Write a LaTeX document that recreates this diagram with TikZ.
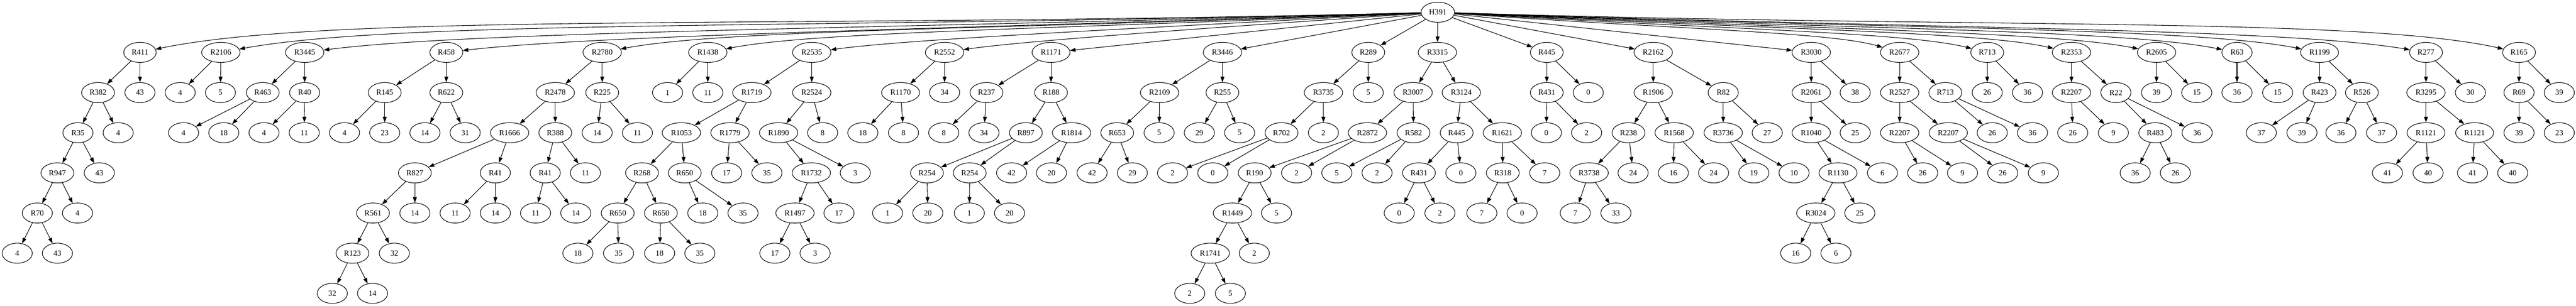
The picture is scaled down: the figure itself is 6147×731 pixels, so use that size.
\documentclass[tikz,border=0pt]{standalone}
\usepackage{fontspec}
\setmainfont{Liberation Serif}
\usetikzlibrary{shapes.geometric,arrows.meta}
\tikzset{
 nd/.style={ellipse, draw, line width=1pt, minimum width=54pt, minimum height=36pt, inner xsep=5.65pt, inner ysep=2pt, font=\fontsize{14}{16}\selectfont},
 arr/.style={line width=1pt, -{Triangle[length=10pt,width=7pt]}}
}
\newcommand\mknode[4]{\node[nd] (#1) at (#3,#4) {#2};}
\newcommand\mkedge[2]{\draw[arr] (#1) -- (#2);}
\begin{document}
\begin{tikzpicture}[x=0.75pt,y=-0.75pt]
\useasboundingbox (0,0) rectangle (6147,731);
% root
\mknode{r}{H391}{3431}{29.3}
% R411
\mknode{a}{R411}{334}{125.3}
\mknode{a1}{R382}{234}{221.3}
\mknode{a2}{43}{334}{221.3}
\mknode{a11}{R35}{186}{317.3}
\mknode{a12}{4}{282}{317.3}
\mknode{a111}{R947}{137}{413.3}
\mknode{a112}{43}{237}{413.3}
\mknode{a1111}{R70}{89}{509.3}
\mknode{a1112}{4}{185}{509.3}
\mknode{a11111}{4}{41}{605.3}
\mknode{a11112}{43}{137}{605.3}
% R2106
\mknode{b}{R2106}{527}{125.3}
\mknode{b1}{4}{430}{221.3}
\mknode{b2}{5}{526}{221.3}
% R3445
\mknode{c}{R3445}{727}{125.3}
\mknode{c1}{R463}{627}{221.3}
\mknode{c2}{R40}{727}{221.3}
\mknode{c11}{4}{438}{317.3}
\mknode{c12}{18}{534}{317.3}
\mknode{c21}{4}{630}{317.3}
\mknode{c22}{11}{726}{317.3}
% R458
\mknode{d}{R458}{1065}{125.3}
\mknode{d1}{R145}{918}{221.3}
\mknode{d2}{R622}{1065}{221.3}
\mknode{d11}{4}{822}{317.3}
\mknode{d12}{23}{918}{317.3}
\mknode{d21}{14}{1014}{317.3}
\mknode{d22}{31}{1110}{317.3}
% R2780
\mknode{e}{R2780}{1437}{125.3}
\mknode{e1}{R2478}{1325}{221.3}
\mknode{e2}{R225}{1437}{221.3}
\mknode{e11}{R1666}{1216}{317.3}
\mknode{e12}{R388}{1325}{317.3}
\mknode{e21}{14}{1425}{317.3}
\mknode{e22}{11}{1521}{317.3}
\mknode{e111}{R827}{990}{413.3}
\mknode{e112}{R41}{1182}{413.3}
\mknode{e121}{R41}{1301}{413.3}
\mknode{e122}{11}{1397}{413.3}
\mknode{e1111}{R561}{890}{509.3}
\mknode{e1112}{14}{990}{509.3}
\mknode{e11111}{R123}{841}{605.3}
\mknode{e11112}{32}{941}{605.3}
\mknode{e111111}{32}{793}{701.3}
\mknode{e111112}{14}{889}{701.3}
\mknode{e1121}{11}{1086}{509.3}
\mknode{e1122}{14}{1182}{509.3}
\mknode{e1211}{11}{1278}{509.3}
\mknode{e1212}{14}{1374}{509.3}
% R1438
\mknode{g}{R1438}{1689}{125.3}
\mknode{g1}{1}{1593}{221.3}
\mknode{g2}{11}{1689}{221.3}
% R2535
\mknode{h}{R2535}{1937}{125.3}
\mknode{h1}{R1719}{1794}{221.3}
\mknode{h2}{R2524}{1937}{221.3}
\mknode{h11}{R1053}{1626}{317.3}
\mknode{h12}{R1779}{1742}{317.3}
\mknode{h21}{R1890}{1858}{317.3}
\mknode{h22}{8}{1963}{317.3}
\mknode{h111}{R268}{1532}{413.3}
\mknode{h112}{R650}{1634}{413.3}
\mknode{h121}{17}{1734}{413.3}
\mknode{h122}{35}{1830}{413.3}
\mknode{h211}{R1732}{1936}{413.3}
\mknode{h212}{3}{2041}{413.3}
\mknode{h1111}{R650}{1474}{509.3}
\mknode{h1112}{R650}{1577}{509.3}
\mknode{h1121}{18}{1677}{509.3}
\mknode{h1122}{35}{1773}{509.3}
\mknode{h2111}{R1497}{1897}{509.3}
\mknode{h2112}{17}{2002}{509.3}
\mknode{h11111}{18}{1379}{605.3}
\mknode{h11112}{35}{1476}{605.3}
\mknode{h11121}{18}{1574}{605.3}
\mknode{h11122}{35}{1670}{605.3}
\mknode{h21111}{17}{1849}{605.3}
\mknode{h21112}{3}{1945}{605.3}
% R2552
\mknode{i}{R2552}{2254}{125.3}
\mknode{i1}{R1170}{2149}{221.3}
\mknode{i2}{34}{2254}{221.3}
\mknode{i11}{18}{2059}{317.3}
\mknode{i12}{8}{2156}{317.3}
% R1171
\mknode{j}{R1171}{2508}{125.3}
\mknode{j1}{R237}{2354}{221.3}
\mknode{j2}{R188}{2508}{221.3}
\mknode{j11}{8}{2252}{317.3}
\mknode{j12}{34}{2348}{317.3}
\mknode{j21}{R897}{2448}{317.3}
\mknode{j22}{R1814}{2557}{317.3}
\mknode{j211}{R254}{2212}{413.3}
\mknode{j212}{R254}{2314}{413.3}
\mknode{j221}{42}{2414}{413.3}
\mknode{j222}{20}{2509}{413.3}
\mknode{j2111}{1}{2118}{509.3}
\mknode{j2112}{20}{2214}{509.3}
\mknode{j2121}{1}{2313}{509.3}
\mknode{j2122}{20}{2409}{509.3}
% R3446
\mknode{k}{R3446}{2917}{125.3}
\mknode{k1}{R2109}{2767}{221.3}
\mknode{k2}{R255}{2917}{221.3}
\mknode{k11}{R653}{2666}{317.3}
\mknode{k12}{5}{2766}{317.3}
\mknode{k111}{42}{2606}{413.3}
\mknode{k112}{29}{2702}{413.3}
\mknode{k21}{29}{2862}{317.3}
\mknode{k22}{5}{2958}{317.3}
% R289
\mknode{l}{R289}{3265}{125.3}
\mknode{l1}{R3735}{3158}{221.3}
\mknode{l2}{5}{3265}{221.3}
\mknode{l11}{R702}{3058}{317.3}
\mknode{l12}{2}{3158}{317.3}
\mknode{l111}{2}{2798}{413.3}
\mknode{l112}{0}{2894}{413.3}
% R3315
\mknode{m}{R3315}{3430}{125.3}
\mknode{m1}{R3007}{3372}{221.3}
\mknode{m2}{R3124}{3487}{221.3}
\mknode{m11}{R2872}{3263}{317.3}
\mknode{m12}{R582}{3373}{317.3}
\mknode{m111}{R190}{2994}{413.3}
\mknode{m112}{2}{3094}{413.3}
\mknode{m1111}{R1449}{2941}{509.3}
\mknode{m1112}{5}{3046}{509.3}
\mknode{m11111}{R1741}{2888}{605.3}
\mknode{m11112}{2}{2993}{605.3}
\mknode{m111111}{2}{2839}{701.3}
\mknode{m111112}{5}{2936}{701.3}
\mknode{m121}{5}{3190}{413.3}
\mknode{m122}{2}{3286}{413.3}
\mknode{m21}{R445}{3476}{317.3}
\mknode{m22}{R1621}{3585}{317.3}
\mknode{m211}{R431}{3386}{413.3}
\mknode{m212}{0}{3486}{413.3}
\mknode{m2111}{0}{3339}{509.3}
\mknode{m2112}{2}{3436}{509.3}
\mknode{m221}{R318}{3586}{413.3}
\mknode{m222}{7}{3686}{413.3}
\mknode{m2211}{7}{3536}{509.3}
\mknode{m2212}{0}{3632}{509.3}
% R445
\mknode{n}{R445}{3691}{125.3}
\mknode{n1}{R431}{3691}{221.3}
\mknode{n2}{0}{3790}{221.3}
\mknode{n11}{0}{3690}{317.3}
\mknode{n12}{2}{3786}{317.3}
% R2162
\mknode{o}{R2162}{3945}{125.3}
\mknode{o1}{R1906}{3945}{221.3}
\mknode{o2}{R82}{4112}{221.3}
\mknode{o11}{R238}{3886}{317.3}
\mknode{o12}{R1568}{3995}{317.3}
\mknode{o111}{R3738}{3792}{413.3}
\mknode{o112}{24}{3897}{413.3}
\mknode{o1111}{7}{3759}{509.3}
\mknode{o1112}{33}{3856}{509.3}
\mknode{o121}{16}{3993}{413.3}
\mknode{o122}{24}{4089}{413.3}
\mknode{o21}{R3736}{4112}{317.3}
\mknode{o22}{27}{4217}{317.3}
\mknode{o211}{19}{4185}{413.3}
\mknode{o212}{10}{4281}{413.3}
% R3030
\mknode{p}{R3030}{4322}{125.3}
\mknode{p1}{R2061}{4322}{221.3}
\mknode{p2}{38}{4427}{221.3}
\mknode{p11}{R1040}{4322}{317.3}
\mknode{p12}{25}{4427}{317.3}
\mknode{p111}{R1130}{4386}{413.3}
\mknode{p112}{6}{4492}{413.3}
\mknode{p1111}{R3024}{4333}{509.3}
\mknode{p1112}{25}{4438}{509.3}
\mknode{p11111}{16}{4285}{605.3}
\mknode{p11112}{6}{4381}{605.3}
% R2677
\mknode{q}{R2677}{4533}{125.3}
\mknode{q1}{R2527}{4533}{221.3}
\mknode{q2}{R713}{4642}{221.3}
\mknode{q11}{R2207}{4533}{317.3}
\mknode{q12}{R2207}{4649}{317.3}
\mknode{q21}{26}{4754}{317.3}
\mknode{q22}{36}{4850}{317.3}
\mknode{q111}{26}{4588}{413.3}
\mknode{q112}{9}{4683}{413.3}
\mknode{q121}{26}{4779}{413.3}
\mknode{q122}{9}{4876}{413.3}
% R713
\mknode{s}{R713}{4742}{125.3}
\mknode{s1}{26}{4742}{221.3}
\mknode{s2}{36}{4838}{221.3}
% R2353
\mknode{t}{R2353}{4943}{125.3}
\mknode{t1}{R2207}{4943}{221.3}
\mknode{t2}{R22}{5049}{221.3}
\mknode{t11}{26}{4946}{317.3}
\mknode{t12}{9}{5043}{317.3}
\mknode{t21}{R483}{5143}{317.3}
\mknode{t22}{36}{5243}{317.3}
\mknode{t211}{36}{5095}{413.3}
\mknode{t212}{26}{5191}{413.3}
% R2605
\mknode{u}{R2605}{5146}{125.3}
\mknode{u1}{39}{5146}{221.3}
\mknode{u2}{15}{5242}{221.3}
% R63
\mknode{v}{R63}{5338}{125.3}
\mknode{v1}{36}{5338}{221.3}
\mknode{v2}{15}{5435}{221.3}
% R1199
\mknode{w}{R1199}{5535}{125.3}
\mknode{w1}{R423}{5535}{221.3}
\mknode{w2}{R526}{5636}{221.3}
\mknode{w11}{37}{5396}{317.3}
\mknode{w12}{39}{5493}{317.3}
\mknode{w21}{36}{5586}{317.3}
\mknode{w22}{37}{5683}{317.3}
% R277
\mknode{xx}{R277}{5789}{125.3}
\mknode{xx1}{R3295}{5789}{221.3}
\mknode{xx2}{30}{5895}{221.3}
\mknode{xx11}{R1121}{5789}{317.3}
\mknode{xx12}{R1121}{5905}{317.3}
\mknode{xx111}{41}{5697}{413.3}
\mknode{xx112}{40}{5794}{413.3}
\mknode{xx121}{41}{5900}{413.3}
\mknode{xx122}{40}{5996}{413.3}
% R165
\mknode{yy}{R165}{6011}{125.3}
\mknode{yy1}{R69}{6011}{221.3}
\mknode{yy2}{39}{6107}{221.3}
\mknode{yy11}{39}{6011}{317.3}
\mknode{yy12}{23}{6107}{317.3}

% root edges
\draw[arr] (r) .. controls (1882.5,69.3) and (798.6,29.3) .. (a);
\draw[arr] (r) .. controls (1979,69.3) and (962.6,46.3) .. (b);
\draw[arr] (r) .. controls (2079,69.3) and (1132.6,74.3) .. (c);
\draw[arr] (r) .. controls (2248,69.3) and (1419.9,84.3) .. (d);
\draw[arr] (r) .. controls (2434,69.3) and (1736.1,69.3) .. (e);
\draw[arr] (r) .. controls (2560,69.3) and (1950.3,74.3) .. (g);
\draw[arr] (r) .. controls (2684,69.3) and (2161.1,94.3) .. (h);
\draw[arr] (r) .. controls (2842.5,69.3) and (2430.6,99.3) .. (i);
\mkedge{r}{j}
\mkedge{r}{k}
\mkedge{r}{l}
\mkedge{r}{m}
\mkedge{r}{n}
\mkedge{r}{o}
\mkedge{r}{p}
\draw[arr] (r) .. controls (3982,69.3) and (4367.7,76.3) .. (q);
\draw[arr] (r) .. controls (4086.5,69.3) and (4545.4,76.3) .. (s);
\draw[arr] (r) .. controls (4187,69.3) and (4716.2,74.3) .. (t);
\draw[arr] (r) .. controls (4288.5,69.3) and (4888.8,74.3) .. (u);
\draw[arr] (r) .. controls (4384.5,69.3) and (5052,69.3) .. (v);
\draw[arr] (r) .. controls (4483,69.3) and (5219.4,64.3) .. (w);
\draw[arr] (r) .. controls (4610,69.3) and (5435.3,66.3) .. (xx);
\draw[arr] (r) .. controls (4721,69.3) and (5624,39.3) .. (yy);

% subtree edges
\mkedge{a}{a1}\mkedge{a}{a2}\mkedge{a1}{a11}\mkedge{a1}{a12}
\mkedge{a11}{a111}\mkedge{a11}{a112}\mkedge{a111}{a1111}\mkedge{a111}{a1112}
\mkedge{a1111}{a11111}\mkedge{a1111}{a11112}
\mkedge{b}{b1}\mkedge{b}{b2}
\mkedge{c}{c1}\mkedge{c}{c2}\mkedge{c1}{c11}\mkedge{c1}{c12}\mkedge{c2}{c21}\mkedge{c2}{c22}
\mkedge{d}{d1}\mkedge{d}{d2}\mkedge{d1}{d11}\mkedge{d1}{d12}\mkedge{d2}{d21}\mkedge{d2}{d22}
\mkedge{e}{e1}\mkedge{e}{e2}\mkedge{e1}{e11}\mkedge{e1}{e12}\mkedge{e2}{e21}\mkedge{e2}{e22}
\mkedge{e11}{e111}\mkedge{e11}{e112}\mkedge{e12}{e121}\mkedge{e12}{e122}
\mkedge{e111}{e1111}\mkedge{e111}{e1112}\mkedge{e1111}{e11111}\mkedge{e1111}{e11112}
\mkedge{e11111}{e111111}\mkedge{e11111}{e111112}
\mkedge{e112}{e1121}\mkedge{e112}{e1122}\mkedge{e121}{e1211}\mkedge{e121}{e1212}
\mkedge{g}{g1}\mkedge{g}{g2}
\mkedge{h}{h1}\mkedge{h}{h2}\mkedge{h1}{h11}\mkedge{h1}{h12}\mkedge{h2}{h21}\mkedge{h2}{h22}
\mkedge{h11}{h111}\mkedge{h11}{h112}\mkedge{h12}{h121}\mkedge{h12}{h122}
\mkedge{h21}{h211}\mkedge{h21}{h212}
\mkedge{h111}{h1111}\mkedge{h111}{h1112}\mkedge{h112}{h1121}\mkedge{h112}{h1122}
\mkedge{h211}{h2111}\mkedge{h211}{h2112}
\mkedge{h1111}{h11111}\mkedge{h1111}{h11112}\mkedge{h1112}{h11121}\mkedge{h1112}{h11122}
\mkedge{h2111}{h21111}\mkedge{h2111}{h21112}
\mkedge{i}{i1}\mkedge{i}{i2}\mkedge{i1}{i11}\mkedge{i1}{i12}
\mkedge{j}{j1}\mkedge{j}{j2}\mkedge{j1}{j11}\mkedge{j1}{j12}\mkedge{j2}{j21}\mkedge{j2}{j22}
\mkedge{j21}{j211}\mkedge{j21}{j212}\mkedge{j22}{j221}\mkedge{j22}{j222}
\mkedge{j211}{j2111}\mkedge{j211}{j2112}\mkedge{j212}{j2121}\mkedge{j212}{j2122}
\mkedge{k}{k1}\mkedge{k}{k2}\mkedge{k1}{k11}\mkedge{k1}{k12}\mkedge{k11}{k111}\mkedge{k11}{k112}
\mkedge{k2}{k21}\mkedge{k2}{k22}
\mkedge{l}{l1}\mkedge{l}{l2}\mkedge{l1}{l11}\mkedge{l1}{l12}\mkedge{l11}{l111}\mkedge{l11}{l112}
\mkedge{m}{m1}\mkedge{m}{m2}\mkedge{m1}{m11}\mkedge{m1}{m12}
\mkedge{m11}{m111}\mkedge{m11}{m112}\mkedge{m111}{m1111}\mkedge{m111}{m1112}
\mkedge{m1111}{m11111}\mkedge{m1111}{m11112}\mkedge{m11111}{m111111}\mkedge{m11111}{m111112}
\mkedge{m12}{m121}\mkedge{m12}{m122}
\mkedge{m2}{m21}\mkedge{m2}{m22}\mkedge{m21}{m211}\mkedge{m21}{m212}
\mkedge{m211}{m2111}\mkedge{m211}{m2112}\mkedge{m22}{m221}\mkedge{m22}{m222}
\mkedge{m221}{m2211}\mkedge{m221}{m2212}
\mkedge{n}{n1}\mkedge{n}{n2}\mkedge{n1}{n11}\mkedge{n1}{n12}
\mkedge{o}{o1}\mkedge{o}{o2}\mkedge{o1}{o11}\mkedge{o1}{o12}
\mkedge{o11}{o111}\mkedge{o11}{o112}\mkedge{o111}{o1111}\mkedge{o111}{o1112}
\mkedge{o12}{o121}\mkedge{o12}{o122}\mkedge{o2}{o21}\mkedge{o2}{o22}
\mkedge{o21}{o211}\mkedge{o21}{o212}
\mkedge{p}{p1}\mkedge{p}{p2}\mkedge{p1}{p11}\mkedge{p1}{p12}\mkedge{p11}{p111}\mkedge{p11}{p112}
\mkedge{p111}{p1111}\mkedge{p111}{p1112}\mkedge{p1111}{p11111}\mkedge{p1111}{p11112}
\mkedge{q}{q1}\mkedge{q}{q2}\mkedge{q1}{q11}\mkedge{q1}{q12}\mkedge{q2}{q21}\mkedge{q2}{q22}
\mkedge{q11}{q111}\mkedge{q11}{q112}\mkedge{q12}{q121}\mkedge{q12}{q122}
\mkedge{s}{s1}\mkedge{s}{s2}
\mkedge{t}{t1}\mkedge{t}{t2}\mkedge{t1}{t11}\mkedge{t1}{t12}\mkedge{t2}{t21}\mkedge{t2}{t22}
\mkedge{t21}{t211}\mkedge{t21}{t212}
\mkedge{u}{u1}\mkedge{u}{u2}
\mkedge{v}{v1}\mkedge{v}{v2}
\mkedge{w}{w1}\mkedge{w}{w2}\mkedge{w1}{w11}\mkedge{w1}{w12}\mkedge{w2}{w21}\mkedge{w2}{w22}
\mkedge{xx}{xx1}\mkedge{xx}{xx2}\mkedge{xx1}{xx11}\mkedge{xx1}{xx12}
\mkedge{xx11}{xx111}\mkedge{xx11}{xx112}\mkedge{xx12}{xx121}\mkedge{xx12}{xx122}
\mkedge{yy}{yy1}\mkedge{yy}{yy2}\mkedge{yy1}{yy11}\mkedge{yy1}{yy12}
\end{tikzpicture}
\end{document}
